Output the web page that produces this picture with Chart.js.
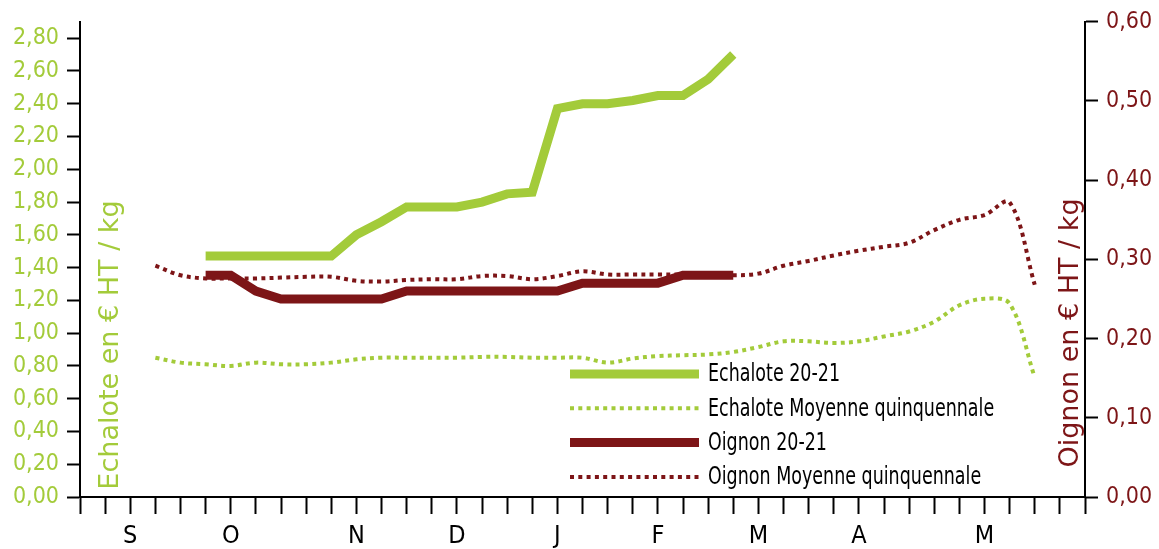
<!DOCTYPE html>
<html>
<head>
<meta charset="utf-8">
<script src="https://cdn.jsdelivr.net/npm/chart.js@4/dist/chart.umd.min.js"></script>
<style>
html, body { margin: 0; padding: 0; background: #fff; }
#wrap { width: 1159px; height: 549px; }
</style>
</head>
<body>
<div id="wrap"><canvas id="myChart"></canvas></div>
<script>
var GREEN = "#A3CB3A";
var RED = "#7D1517";

//weeks from september to june, only the month letter is shown
var nbWeeks = 41;
var months = ["S", "O", "N", "D", "J", "F", "M", "A", "M"];
var monthWeek = [2, 6, 11, 15, 19, 23, 27, 31, 36];

//left axis (echalote) and right axis (oignon) ticks
var leftTicks = [0, 0.2, 0.4, 0.6, 0.8, 1.0, 1.2, 1.4, 1.6, 1.8, 2.0, 2.2, 2.4, 2.6, 2.8];
var rightTicks = [0, 0.1, 0.2, 0.3, 0.4, 0.5, 0.6];

var leftTitle = "Echalote en € HT / kg";
var rightTitle = "Oignon en € HT / kg";

//series, with the week they start at
var echalote2021Start = 5;
var echalote2021 = [1.47, 1.47, 1.47, 1.47, 1.47, 1.47, 1.60, 1.68, 1.77, 1.77, 1.77,
  1.80, 1.85, 1.86, 2.37, 2.40, 2.40, 2.42, 2.45, 2.45, 2.55, 2.70];

var echaloteMoyStart = 3;
var echaloteMoy = [0.85, 0.82, 0.81, 0.80, 0.82, 0.81, 0.81, 0.82, 0.84, 0.85, 0.85, 0.85,
  0.85, 0.855, 0.855, 0.85, 0.85, 0.85, 0.82, 0.845, 0.86, 0.865, 0.87, 0.885, 0.915, 0.95,
  0.95, 0.94, 0.95, 0.98, 1.01, 1.07, 1.17, 1.21, 1.18, 0.73];

var oignon2021Start = 5;
var oignon2021 = [0.28, 0.28, 0.26, 0.25, 0.25, 0.25, 0.25, 0.25, 0.26, 0.26, 0.26,
  0.26, 0.26, 0.26, 0.26, 0.27, 0.27, 0.27, 0.27, 0.28, 0.28, 0.28];

var oignonMoyStart = 3;
var oignonMoy = [0.292, 0.28, 0.276, 0.276, 0.276, 0.277, 0.278, 0.278, 0.273, 0.272, 0.274,
  0.275, 0.275, 0.279, 0.279, 0.275, 0.279, 0.285, 0.281, 0.281, 0.281, 0.281, 0.281, 0.280,
  0.282, 0.292, 0.298, 0.305, 0.311, 0.316, 0.321, 0.337, 0.350, 0.356, 0.372, 0.268];

//build the week labels
var labels = [];
for (var i = 0; i < nbWeeks; i++) {
  labels.push("");
}
months.forEach(function (m, k) {
  labels[monthWeek[k]] = m;
});

//put a serie at its place in the weeks
function pad(start, values) {
  var a = [];
  for (var i = 0; i < nbWeeks; i++) {
    a.push(null);
  }
  values.forEach(function (v, k) {
    a[start + k] = v;
  });
  return a;
}

function frNumber(v) {
  return v.toFixed(2).replace(".", ",");
}

var condensed = "'DejaVu Sans Condensed', 'DejaVu Sans', sans-serif";

//draws the axis titles and the legend inside the plot
var overlay = {
  id: "overlay",
  afterDraw: function (chart) {
    var ctx = chart.ctx;
    var area = chart.chartArea;

    ctx.save();
    ctx.font = "27px 'DejaVu Sans', sans-serif";
    ctx.textAlign = "center";
    ctx.textBaseline = "alphabetic";
    ctx.fillStyle = GREEN;
    ctx.translate(area.left + 38, 345);
    ctx.rotate(-Math.PI / 2);
    ctx.fillText(leftTitle, 0, 0);
    ctx.restore();

    ctx.save();
    ctx.font = "27px 'DejaVu Sans', sans-serif";
    ctx.textAlign = "center";
    ctx.textBaseline = "alphabetic";
    ctx.fillStyle = RED;
    ctx.translate(area.right - 7, 333);
    ctx.rotate(-Math.PI / 2);
    ctx.fillText(rightTitle, 0, 0);
    ctx.restore();

    //legend
    chart.data.datasets.forEach(function (ds, k) {
      var y = 374 + k * 34.3;
      ctx.save();
      ctx.strokeStyle = ds.borderColor;
      ctx.lineWidth = ds.borderWidth;
      ctx.setLineDash(ds.borderDash || []);
      ctx.beginPath();
      ctx.moveTo(570, y);
      ctx.lineTo(699, y);
      ctx.stroke();
      ctx.setLineDash([]);
      ctx.fillStyle = "#000";
      ctx.font = "24px " + condensed;
      ctx.textBaseline = "middle";
      //narrow text like the original
      ctx.translate(708, y + 1);
      ctx.scale(0.81, 1);
      ctx.fillText(ds.label, 0, 0);
      ctx.restore();
    });
  }
};

var ctx = document.getElementById("myChart");

var myChart = new Chart(ctx, {
  type: "line",
  plugins: [overlay],
  data: {
    labels: labels,
    datasets: [
      {
        label: "Echalote 20-21",
        data: pad(echalote2021Start, echalote2021),
        yAxisID: "yL",
        borderColor: GREEN,
        borderWidth: 9,
        tension: 0
      },
      {
        label: "Echalote Moyenne quinquennale",
        data: pad(echaloteMoyStart, echaloteMoy),
        yAxisID: "yL",
        borderColor: GREEN,
        borderWidth: 4,
        borderDash: [4, 4.3],
        tension: 0.35
      },
      {
        label: "Oignon 20-21",
        data: pad(oignon2021Start, oignon2021),
        yAxisID: "yR",
        borderColor: RED,
        borderWidth: 9,
        tension: 0
      },
      {
        label: "Oignon Moyenne quinquennale",
        data: pad(oignonMoyStart, oignonMoy),
        yAxisID: "yR",
        borderColor: RED,
        borderWidth: 4,
        borderDash: [4, 4.3],
        tension: 0.35
      }
    ]
  },
  options: {
    responsive: true,
    maintainAspectRatio: false,
    animation: false,
    layout: { padding: { top: 17, left: 0, right: 0, bottom: 0 } },
    elements: { point: { radius: 0 } },
    plugins: {
      legend: { display: false },
      tooltip: { enabled: false }
    },
    scales: {
      x: {
        type: "category",
        offset: false,
        grid: { drawOnChartArea: false, drawTicks: true, tickLength: 17, tickWidth: 2, tickColor: "#000" },
        border: { display: true, color: "#000", width: 2 },
        ticks: { autoSkip: false, maxRotation: 0, minRotation: 0, color: "#000", font: { family: condensed, size: 25 }, padding: 7 },
        afterFit: function (s) { s.height = 52; }
      },
      yL: {
        position: "left",
        min: 0,
        max: 2.9,
        afterBuildTicks: function (s) {
          s.ticks = leftTicks.map(function (v) { return { value: v }; });
        },
        grid: { drawOnChartArea: false, drawTicks: true, tickLength: 13, tickWidth: 2, tickColor: "#000" },
        border: { display: true, color: "#000", width: 2 },
        ticks: {
          color: GREEN,
          font: { family: condensed, size: 23 },
          padding: 8,
          callback: function (v) { return frNumber(v); }
        },
        afterFit: function (s) { s.width = 80; }
      },
      yR: {
        position: "right",
        min: 0,
        max: 0.6,
        afterBuildTicks: function (s) {
          s.ticks = rightTicks.map(function (v) { return { value: v }; });
        },
        grid: { drawOnChartArea: false, drawTicks: true, tickLength: 13, tickWidth: 2, tickColor: "#000" },
        border: { display: true, color: "#000", width: 2 },
        ticks: {
          color: RED,
          font: { family: condensed, size: 23 },
          padding: 8,
          callback: function (v) { return frNumber(v); }
        },
        afterFit: function (s) { s.width = 74; }
      }
    }
  }
});
</script>
</body>
</html>
